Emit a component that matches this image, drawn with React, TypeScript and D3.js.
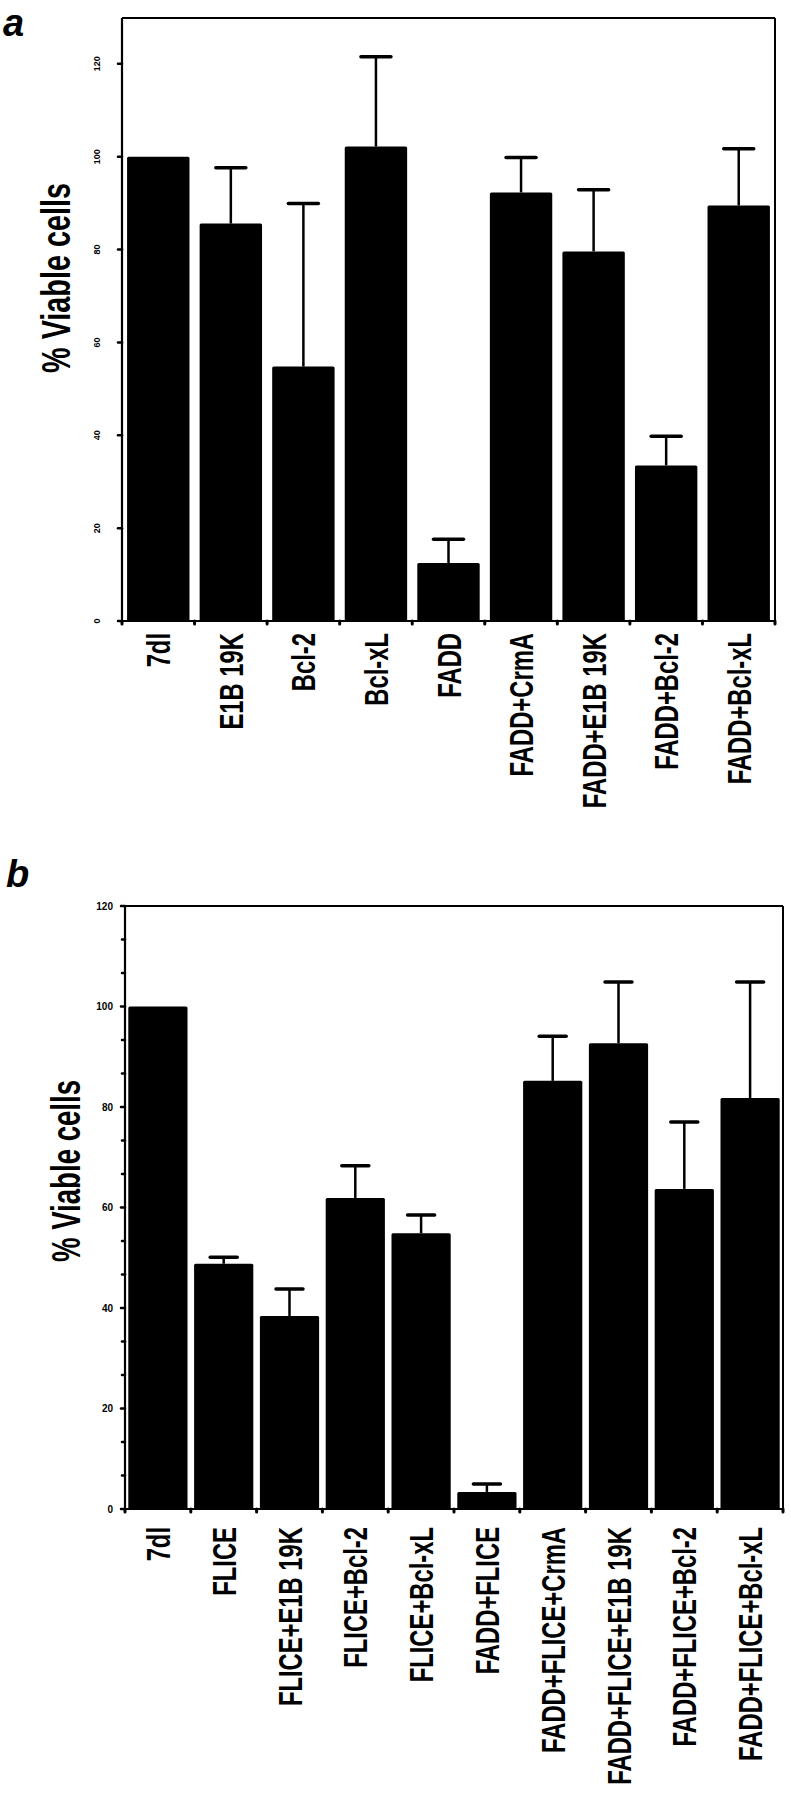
import React from "react";
import * as d3 from "d3";

const catsA = ["7dl", "E1B 19K", "Bcl-2", "Bcl-xL", "FADD", "FADD+CrmA", "FADD+E1B 19K", "FADD+Bcl-2", "FADD+Bcl-xL"];
const valsA = [100, 85.6, 54.8, 102.2, 12.5, 92.3, 79.6, 33.5, 89.5];
const errA = [0, 12.0, 35.1, 19.3, 5.1, 7.5, 13.3, 6.3, 12.2];

const catsB = ["7dl", "FLICE", "FLICE+E1B 19K", "FLICE+Bcl-2", "FLICE+Bcl-xL", "FADD+FLICE", "FADD+FLICE+CrmA", "FADD+FLICE+E1B 19K", "FADD+FLICE+Bcl-2", "FADD+FLICE+Bcl-xL"];
const valsB = [100, 48.8, 38.4, 61.9, 54.9, 3.4, 85.2, 92.7, 63.7, 81.8];
const errB = [0, 1.3, 5.4, 6.4, 3.6, 1.6, 8.9, 12.2, 13.3, 23.1];

const ticksY = [0, 20, 40, 60, 80, 100, 120];

const FONT = "'Liberation Sans', Arial, Helvetica, sans-serif";

type PanelProps = {
  cats: string[];
  vals: number[];
  errs: number[];
  xRange: [number, number];
  padIn: number;
  padOut: number;
  yDomain: [number, number];
  yRange: [number, number];
  topY: number;
  capW: number;
  labelTop: number;
  labelSx: number;
  yLabelX: number;
  yLabelY: number;
  yLabelSx: number;
  rotTicks: boolean;
  minor: number[];
  letter: string;
  letterX: number;
  letterY: number;
};

function Panel(p: PanelProps) {
  const x = d3.scaleBand<string>().domain(p.cats).range(p.xRange).paddingInner(p.padIn).paddingOuter(p.padOut);
  const y = d3.scaleLinear().domain(p.yDomain).range(p.yRange);
  const x0 = p.xRange[0];
  const x1 = p.xRange[1];
  const y0 = y(0);
  const step = x.step();
  const boundaries = p.cats.map((c, i) => (i === 0 ? x0 : (x(c) as number) - (step * p.padIn) / 2)).concat([x1]);
  return (
    <g>
      <text x={p.letterX} y={p.letterY} fontFamily={FONT} fontStyle="italic" fontWeight="bold" fontSize={38} fill="#000">
        {p.letter}
      </text>
      {/* frame */}
      <line x1={x0} y1={p.topY} x2={x1} y2={p.topY} stroke="#000" strokeWidth={2} />
      <line x1={x1} y1={p.topY} x2={x1} y2={y0} stroke="#000" strokeWidth={2} />
      <line x1={x0} y1={p.topY} x2={x0} y2={y0} stroke="#000" strokeWidth={2.2} />
      <line x1={x0} y1={y0} x2={x1} y2={y0} stroke="#000" strokeWidth={2.2} />
      {/* y ticks */}
      {ticksY.map((t) => (
        <g key={"t" + t}>
          <line x1={x0 - 4} x2={x0} y1={y(t)} y2={y(t)} stroke="#000" strokeWidth={2.5} strokeLinecap="round" />
          {p.rotTicks ? (
            <text
              transform={`translate(${x0 - 22},${y(t)}) rotate(-90)`}
              textAnchor="middle"
              fontFamily={FONT}
              fontWeight="bold"
              fontSize={9}
              fill="#000"
            >
              {t}
            </text>
          ) : (
            <text x={x0 - 12} y={y(t)} dy="0.35em" textAnchor="end" fontFamily={FONT} fontWeight="bold" fontSize={10} fill="#000">
              {t}
            </text>
          )}
        </g>
      ))}
      {p.minor.map((t) => (
        <line key={"m" + t} x1={x0 - 3} x2={x0} y1={y(t)} y2={y(t)} stroke="#000" strokeWidth={2.5} strokeLinecap="round" />
      ))}
      {/* x boundary ticks */}
      {boundaries.map((b, i) => (
        <line key={"b" + i} x1={b} x2={b} y1={y0} y2={y0 + 3} stroke="#000" strokeWidth={3} strokeLinecap="round" />
      ))}
      {/* bars */}
      {p.cats.map((c, i) => {
        const bx = x(c) as number;
        const bw = x.bandwidth();
        const cx = bx + bw / 2;
        const top = y(p.vals[i]);
        const et = y(p.vals[i] + p.errs[i]);
        return (
          <g key={c}>
            <rect x={bx} y={top} width={bw} height={y0 - top} fill="#000" rx={1.5} />
            {p.errs[i] > 0 && (
              <g>
                <line x1={cx} x2={cx} y1={top} y2={et} stroke="#000" strokeWidth={2.5} />
                <line x1={cx - p.capW / 2} x2={cx + p.capW / 2} y1={et} y2={et} stroke="#000" strokeWidth={3.5} strokeLinecap="round" />
              </g>
            )}
          </g>
        );
      })}
      {/* x labels */}
      {p.cats.map((c) => {
        const cx = (x(c) as number) + x.bandwidth() / 2;
        return (
          <text
            key={"l" + c}
            transform={`translate(${cx + 12},${p.labelTop}) rotate(-90) scale(${p.labelSx},1)`}
            textAnchor="end"
            fontFamily={FONT}
            fontWeight="bold"
            fontSize={34}
            fill="#000"
          >
            {c}
          </text>
        );
      })}
      {/* y label */}
      <text
        transform={`translate(${p.yLabelX},${p.yLabelY}) rotate(-90) scale(${p.yLabelSx},1)`}
        textAnchor="middle"
        fontFamily={FONT}
        fontWeight="bold"
        fontSize={40}
        fill="#000"
      >
        % Viable cells
      </text>
    </g>
  );
}

export default function App() {
  return (
    <svg
      width={791}
      height={1800}
      viewBox="0 0 791 1800"
      style={{ position: "absolute", left: 0, top: 0, background: "#fff" }}
    >
      <rect x={0} y={0} width={791} height={1800} fill="#fff" />
      <Panel
        cats={catsA}
        vals={valsA}
        errs={errA}
        xRange={[122, 775]}
        padIn={0.14}
        padOut={0.07}
        yDomain={[0, 130]}
        yRange={[621, 17.4]}
        topY={18}
        capW={30}
        labelTop={633}
        labelSx={0.7}
        yLabelX={70}
        yLabelY={278}
        yLabelSx={0.72}
        rotTicks={true}
        minor={[]}
        letter="a"
        letterX={3}
        letterY={36}
      />
      <Panel
        cats={catsB}
        vals={valsB}
        errs={errB}
        xRange={[125, 783]}
        padIn={0.1}
        padOut={0.05}
        yDomain={[0, 120]}
        yRange={[1509, 906]}
        topY={906}
        capW={27}
        labelTop={1527}
        labelSx={0.7}
        yLabelX={80}
        yLabelY={1171}
        yLabelSx={0.69}
        rotTicks={false}
        minor={[6.67, 13.33, 26.67, 33.33, 46.67, 53.33, 66.67, 73.33, 86.67, 93.33, 106.67, 113.33]}
        letter="b"
        letterX={6}
        letterY={887}
      />
    </svg>
  );
}
